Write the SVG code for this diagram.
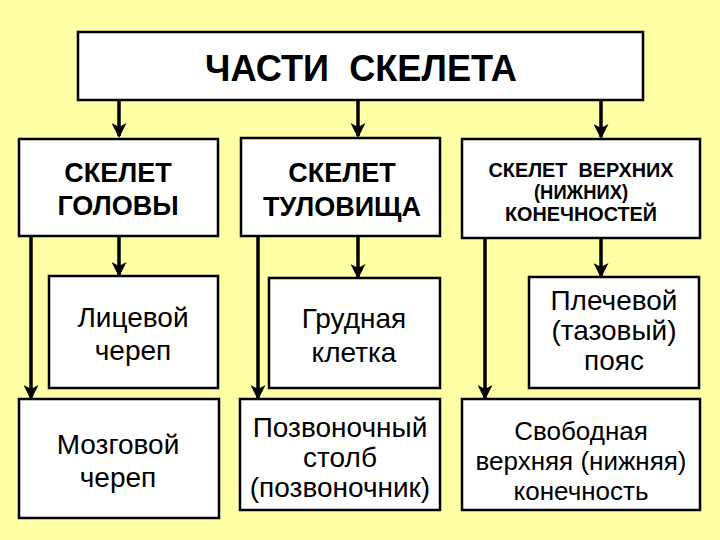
<svg xmlns="http://www.w3.org/2000/svg" width="720" height="540" viewBox="0 0 720 540">
<style>
.box{fill:#ffffff;stroke:#000000;stroke-width:2.5}
.t{font-family:"Liberation Sans",Arial,sans-serif;fill:#000000;text-anchor:middle}
.b{font-weight:bold}
.c{stroke:#000000;stroke-width:3.5;fill:none}
</style>
<defs>
<marker id="arr" markerUnits="userSpaceOnUse" markerWidth="15" markerHeight="15" viewBox="0 0 15 15" refX="13" refY="7.5" orient="auto">
<path d="M0,0 L15,7.5 L0,15 L4,7.5 Z" fill="#000000"/>
</marker>
</defs>
<rect x="0" y="0" width="720" height="540" fill="#ffffa6"/>
<g id="connectors">
<line class="c" x1="119" y1="100" x2="119" y2="136" marker-end="url(#arr)"/>
<line class="c" x1="358" y1="100" x2="358" y2="136" marker-end="url(#arr)"/>
<line class="c" x1="601" y1="100" x2="601" y2="137" marker-end="url(#arr)"/>
<line class="c" x1="119" y1="236" x2="119" y2="275" marker-end="url(#arr)"/>
<line class="c" x1="31" y1="236" x2="31" y2="398" marker-end="url(#arr)"/>
<line class="c" x1="358" y1="236" x2="358" y2="277" marker-end="url(#arr)"/>
<line class="c" x1="258" y1="236" x2="258" y2="398" marker-end="url(#arr)"/>
<line class="c" x1="601" y1="238" x2="601" y2="276" marker-end="url(#arr)"/>
<line class="c" x1="485" y1="238" x2="485" y2="398" marker-end="url(#arr)"/>
</g>
<g id="root">
<rect class="box" x="78" y="32" width="565" height="68"/>
<text class="t b" x="361" y="81" font-size="36" textLength="312" lengthAdjust="spacingAndGlyphs" xml:space="preserve">ЧАСТИ  СКЕЛЕТА</text>
</g>
<g id="head">
<rect class="box" x="19" y="139" width="199" height="97"/>
<text class="t b" x="118" y="182" font-size="27">СКЕЛЕТ</text>
<text class="t b" x="118" y="215" font-size="27">ГОЛОВЫ</text>
</g>
<g id="trunk">
<rect class="box" x="241" y="138" width="199" height="98"/>
<text class="t b" x="342" y="182" font-size="27">СКЕЛЕТ</text>
<text class="t b" x="342" y="216" font-size="27">ТУЛОВИЩА</text>
</g>
<g id="limbs">
<rect class="box" x="462" y="139" width="238" height="99"/>
<text class="t b" x="581" y="177" font-size="20" textLength="185" lengthAdjust="spacingAndGlyphs" xml:space="preserve">СКЕЛЕТ  ВЕРХНИХ</text>
<text class="t b" x="581" y="199" font-size="20" textLength="94" lengthAdjust="spacingAndGlyphs">(НИЖНИХ)</text>
<text class="t b" x="581" y="221" font-size="20" textLength="152" lengthAdjust="spacingAndGlyphs">КОНЕЧНОСТЕЙ</text>
</g>
<g id="facial">
<rect class="box" x="49" y="276" width="169" height="112"/>
<text class="t" x="133" y="327" font-size="28">Лицевой</text>
<text class="t" x="133" y="360" font-size="28">череп</text>
</g>
<g id="brain">
<rect class="box" x="19" y="399" width="200" height="119"/>
<text class="t" x="118" y="454" font-size="28">Мозговой</text>
<text class="t" x="118" y="487" font-size="28">череп</text>
</g>
<g id="chest">
<rect class="box" x="269" y="278" width="171" height="110"/>
<text class="t" x="354" y="328" font-size="28">Грудная</text>
<text class="t" x="354" y="362" font-size="28">клетка</text>
</g>
<g id="spine">
<rect class="box" x="240" y="399" width="200" height="111"/>
<text class="t" x="340" y="437" font-size="28">Позвоночный</text>
<text class="t" x="340" y="467" font-size="28">столб</text>
<text class="t" x="340" y="497" font-size="28">(позвоночник)</text>
</g>
<g id="girdle">
<rect class="box" x="529" y="277" width="170" height="111"/>
<text class="t" x="614" y="310" font-size="28">Плечевой</text>
<text class="t" x="614" y="340" font-size="28">(тазовый)</text>
<text class="t" x="614" y="370" font-size="28">пояс</text>
</g>
<g id="free">
<rect class="box" x="462" y="399" width="238" height="111"/>
<text class="t" x="581" y="440" font-size="26">Свободная</text>
<text class="t" x="581" y="470" font-size="26">верхняя (нижняя)</text>
<text class="t" x="581" y="500" font-size="26">конечность</text>
</g>
</svg>
